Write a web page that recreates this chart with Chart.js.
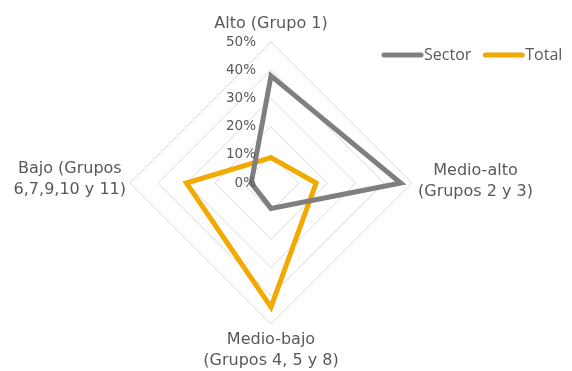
<!DOCTYPE html>
<html>
<head>
<meta charset="utf-8">
<script src="https://cdn.jsdelivr.net/npm/chart.js@4"></script>
<style>
  html, body { margin: 0; padding: 0; background: #ffffff; }
  #wrap { position: relative; width: 572px; height: 371px; }
</style>
</head>
<body>
<div id="wrap"><canvas id="c" width="572" height="371"></canvas></div>
<script>
// Radar axes (socio-economic groups) and the share of each series per group, in %
const categories = [
  ['Alto (Grupo 1)'],
  ['Medio-alto', '(Grupos 2 y 3)'],
  ['Medio-bajo', '(Grupos 4, 5 y 8)'],
  ['Bajo (Grupos', '6,7,9,10 y 11)']
];
const sectorValues = [38, 46, 9, 7];
const totalValues = [9, 16, 44, 30];
const tickValues = [0, 10, 20, 30, 40, 50];

const GRAY = '#7f7f7f';
const GOLD = '#f2a900';
const TEXT = '#595959';
const LABEL_FONT = '16px "DejaVu Sans", sans-serif';
const TICK_FONT = '13.5px "DejaVu Sans", sans-serif';
const LEGEND_FONT = '16px "Open Sans", "Noto Sans", sans-serif';

// Tick labels, point labels and legend drawn on top of the radial scale
const annotate = {
  id: 'annotate',
  afterDraw(chart) {
    const ctx = chart.ctx;
    const r = chart.scales.r;
    ctx.save();
    ctx.fillStyle = TEXT;

    // percentage ticks, right-aligned beside the vertical axis
    ctx.font = TICK_FONT;
    ctx.textAlign = 'right';
    ctx.textBaseline = 'middle';
    tickValues.forEach(v => {
      const d = r.getDistanceFromCenterForValue(v);
      ctx.fillText(v + '%', r.xCenter - 15, r.yCenter - d);
    });

    // category labels, lines centred within each block
    ctx.font = LABEL_FONT;
    const lh = 21;
    categories.forEach((lines, i) => {
      const p = r.getPointPositionForValue(i, 50);
      const w = Math.max(...lines.map(s => ctx.measureText(s).width));
      const h = lines.length * lh;
      let cx, top;
      if (i === 0) { cx = p.x; top = p.y - 8 - h; }
      else if (i === 1) { cx = p.x + 6 + w / 2; top = p.y - h / 2 - 2; }
      else if (i === 2) { cx = p.x; top = p.y + 5; }
      else { cx = p.x - 4 - w / 2; top = p.y - h / 2 - 4; }
      ctx.textAlign = 'center';
      ctx.textBaseline = 'middle';
      lines.forEach((s, k) => ctx.fillText(s, cx, top + lh * k + lh / 2));
    });

    // legend: line swatch followed by series name
    ctx.font = LEGEND_FONT;
    ctx.textAlign = 'left';
    ctx.textBaseline = 'middle';
    let x = 384;
    const y = 55;
    chart.data.datasets.forEach(ds => {
      ctx.strokeStyle = ds.borderColor;
      ctx.lineWidth = 5;
      ctx.lineCap = 'round';
      ctx.beginPath();
      ctx.moveTo(x, y);
      ctx.lineTo(x + 37, y);
      ctx.stroke();
      ctx.fillStyle = TEXT;
      ctx.fillText(ds.label, x + 40, y);
      x += 40 + ctx.measureText(ds.label).width + 14;
    });
    ctx.restore();
  }
};

new Chart(document.getElementById('c'), {
  type: 'radar',
  data: {
    labels: categories,
    datasets: [
      {
        label: 'Sector',
        data: sectorValues,
        borderColor: GRAY,
        backgroundColor: 'transparent',
        borderWidth: 5,
        borderJoinStyle: 'miter',
        pointRadius: 0,
        pointHoverRadius: 0,
        fill: false
      },
      {
        label: 'Total',
        data: totalValues,
        borderColor: GOLD,
        backgroundColor: 'transparent',
        borderWidth: 5,
        borderJoinStyle: 'miter',
        pointRadius: 0,
        pointHoverRadius: 0,
        fill: false
      }
    ]
  },
  options: {
    responsive: false,
    animation: false,
    events: [],
    layout: { padding: { left: 130, right: 160, top: 42, bottom: 47 } },
    plugins: {
      legend: { display: false },
      tooltip: { enabled: false }
    },
    scales: {
      r: {
        min: 0,
        max: 50,
        ticks: { stepSize: 10, display: false },
        grid: { color: '#d9d9d9', lineWidth: 1 },
        angleLines: { display: false },
        pointLabels: { display: false }
      }
    }
  },
  plugins: [annotate]
});
</script>
</body>
</html>
